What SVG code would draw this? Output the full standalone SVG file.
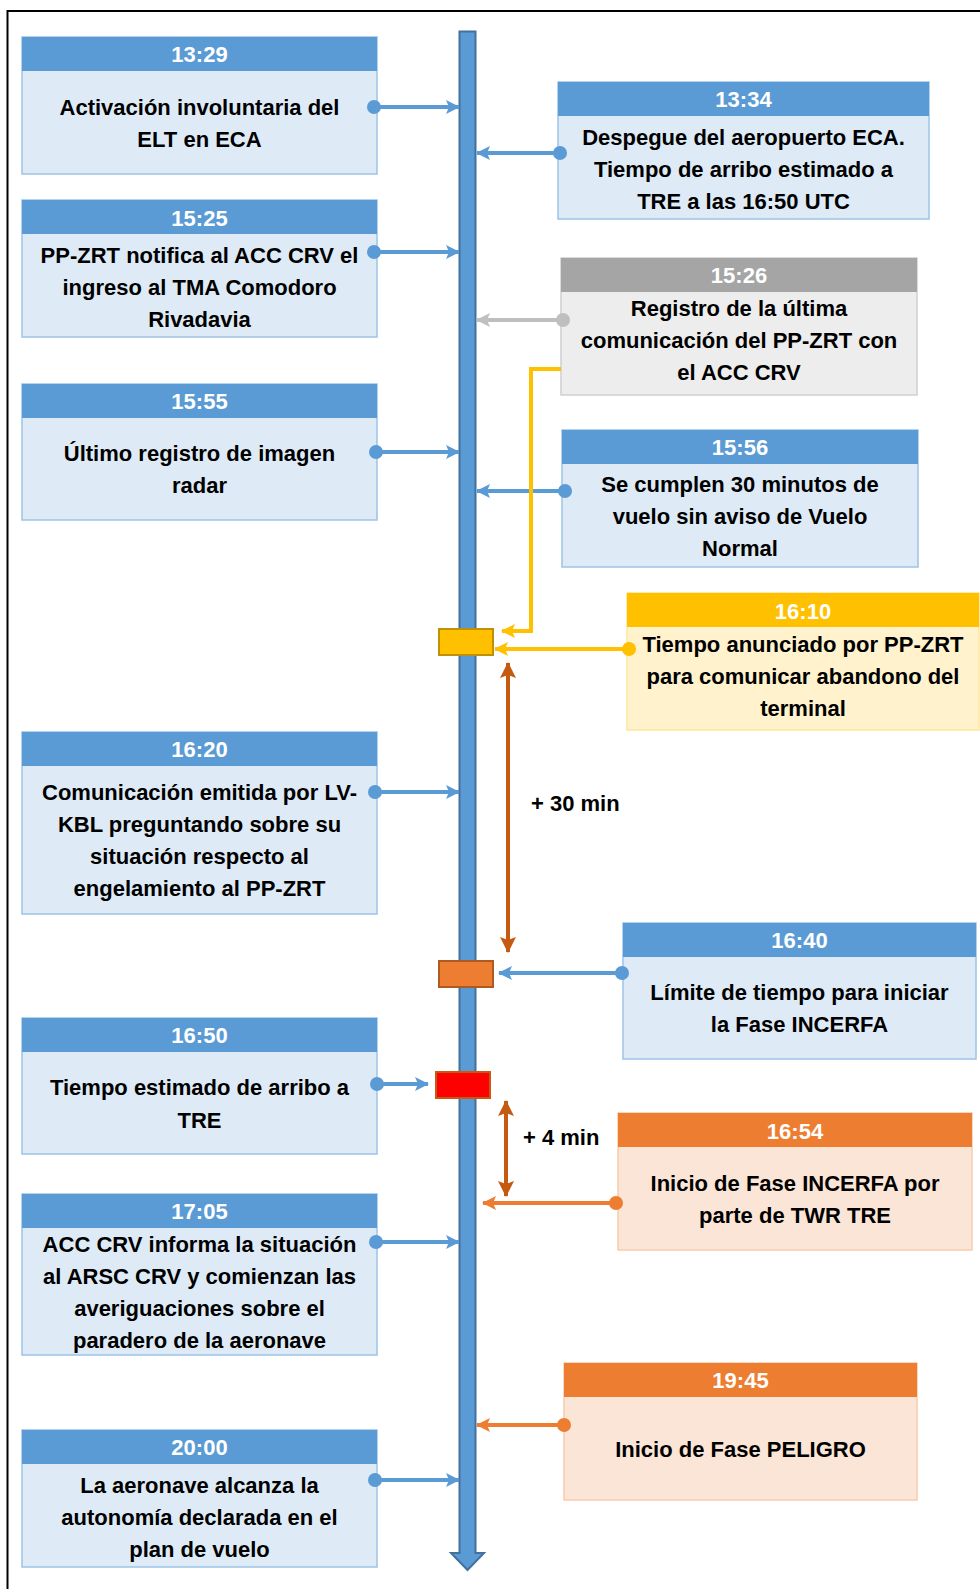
<svg xmlns="http://www.w3.org/2000/svg" width="980" height="1589" viewBox="0 0 980 1589">
<style>
text{font-family:"Liberation Sans",Arial,sans-serif;font-weight:bold;font-size:22px;text-anchor:middle}
.t{fill:#000}
.ht{fill:#fff}
.lbl{fill:#000;text-anchor:start}
.bbody{fill:#DEEBF7;stroke:#9DC3E6;stroke-width:1.5}
.bhead{fill:#5B9BD5}
.gbody{fill:#EDEDED;stroke:#D0D0D0;stroke-width:1.5}
.ghead{fill:#A5A5A5}
.ybody{fill:#FFF2CC;stroke:#FFE699;stroke-width:1.5}
.yhead{fill:#FFC000}
.obody{fill:#FBE5D6;stroke:#F8CBAD;stroke-width:1.5}
.ohead{fill:#ED7D31}
.cb{stroke:#5B9BD5;stroke-width:4;fill:none}
.cg{stroke:#BFBFBF;stroke-width:4;fill:none}
.cy{stroke:#FFC000;stroke-width:4;fill:none}
.co{stroke:#ED7D31;stroke-width:4;fill:none}
.cd{stroke:#C55A11;stroke-width:4;fill:none}
</style>
<defs>
<marker id="mb" viewBox="0 0 14 14" refX="13" refY="7" markerWidth="14" markerHeight="14" markerUnits="userSpaceOnUse" orient="auto-start-reverse"><path d="M0,0 L14,7 L0,14 L3,7 Z" fill="#5B9BD5"/></marker>
<marker id="mg" viewBox="0 0 14 14" refX="13" refY="7" markerWidth="14" markerHeight="14" markerUnits="userSpaceOnUse" orient="auto-start-reverse"><path d="M0,0 L14,7 L0,14 L3,7 Z" fill="#BFBFBF"/></marker>
<marker id="my" viewBox="0 0 14 14" refX="13" refY="7" markerWidth="14" markerHeight="14" markerUnits="userSpaceOnUse" orient="auto-start-reverse"><path d="M0,0 L14,7 L0,14 L3,7 Z" fill="#FFC000"/></marker>
<marker id="mo" viewBox="0 0 14 14" refX="13" refY="7" markerWidth="14" markerHeight="14" markerUnits="userSpaceOnUse" orient="auto-start-reverse"><path d="M0,0 L14,7 L0,14 L3,7 Z" fill="#ED7D31"/></marker>
<marker id="md" viewBox="0 0 16 16" refX="15" refY="8" markerWidth="16" markerHeight="16" markerUnits="userSpaceOnUse" orient="auto-start-reverse"><path d="M0,0 L16,8 L0,16 L3,8 Z" fill="#C55A11"/></marker>
</defs>
<rect x="0" y="0" width="980" height="1589" fill="#fff"/>
<path d="M7.5,1589 V11 H980" fill="none" stroke="#000" stroke-width="2"/>

<g id="timeline">
<path d="M459.5,31.5 H475.5 V1553 H484 L467.5,1570 L451,1553 H459.5 Z" fill="#5B9BD5" stroke="#41719C" stroke-width="2"/>
</g>

<g id="m1610"><rect x="439" y="629" width="54" height="26" fill="#FFC000" stroke="#BF9000" stroke-width="2"/></g>
<g id="m1640"><rect x="439" y="961" width="54" height="26" fill="#ED7D31" stroke="#AE5A21" stroke-width="2"/></g>
<g id="m1650"><rect x="436" y="1072" width="54" height="26" fill="#FF0000" stroke="#C55A11" stroke-width="2"/></g>

<g id="n1329">
<rect class="bbody" x="22" y="37" width="355" height="137"/><rect class="bhead" x="22" y="37" width="355" height="34"/>
<text class="ht" x="199.5" y="62">13:29</text>
<text class="t" x="199.5" y="115">Activación involuntaria del</text>
<text class="t" x="199.5" y="147">ELT en ECA</text>
</g>
<g id="n1525">
<rect class="bbody" x="22" y="200" width="355" height="137"/><rect class="bhead" x="22" y="200" width="355" height="34"/>
<text class="ht" x="199.5" y="226">15:25</text>
<text class="t" x="199.5" y="263">PP-ZRT notifica al ACC CRV el</text>
<text class="t" x="199.5" y="295">ingreso al TMA Comodoro</text>
<text class="t" x="199.5" y="327">Rivadavia</text>
</g>
<g id="n1555">
<rect class="bbody" x="22" y="384" width="355" height="136"/><rect class="bhead" x="22" y="384" width="355" height="34"/>
<text class="ht" x="199.5" y="409">15:55</text>
<text class="t" x="199.5" y="461">Último registro de imagen</text>
<text class="t" x="199.5" y="493">radar</text>
</g>
<g id="n1620">
<rect class="bbody" x="22" y="732" width="355" height="182"/><rect class="bhead" x="22" y="732" width="355" height="34"/>
<text class="ht" x="199.5" y="757">16:20</text>
<text class="t" x="199.5" y="800">Comunicación emitida por LV-</text>
<text class="t" x="199.5" y="832">KBL preguntando sobre su</text>
<text class="t" x="199.5" y="864">situación respecto al</text>
<text class="t" x="199.5" y="896">engelamiento al PP-ZRT</text>
</g>
<g id="n1650">
<rect class="bbody" x="22" y="1018" width="355" height="136"/><rect class="bhead" x="22" y="1018" width="355" height="34"/>
<text class="ht" x="199.5" y="1043">16:50</text>
<text class="t" x="199.5" y="1095">Tiempo estimado de arribo a</text>
<text class="t" x="199.5" y="1128">TRE</text>
</g>
<g id="n1705">
<rect class="bbody" x="22" y="1194" width="355" height="161"/><rect class="bhead" x="22" y="1194" width="355" height="34"/>
<text class="ht" x="199.5" y="1219">17:05</text>
<text class="t" x="199.5" y="1252">ACC CRV informa la situación</text>
<text class="t" x="199.5" y="1284">al ARSC CRV y comienzan las</text>
<text class="t" x="199.5" y="1316">averiguaciones sobre el</text>
<text class="t" x="199.5" y="1348">paradero de la aeronave</text>
</g>
<g id="n2000">
<rect class="bbody" x="22" y="1430" width="355" height="137"/><rect class="bhead" x="22" y="1430" width="355" height="34"/>
<text class="ht" x="199.5" y="1455">20:00</text>
<text class="t" x="199.5" y="1493">La aeronave alcanza la</text>
<text class="t" x="199.5" y="1525">autonomía declarada en el</text>
<text class="t" x="199.5" y="1557">plan de vuelo</text>
</g>

<g id="n1334">
<rect class="bbody" x="558" y="82" width="371" height="137"/><rect class="bhead" x="558" y="82" width="371" height="34"/>
<text class="ht" x="743.5" y="107">13:34</text>
<text class="t" x="743.5" y="145">Despegue del aeropuerto ECA.</text>
<text class="t" x="743.5" y="177">Tiempo de arribo estimado a</text>
<text class="t" x="743.5" y="209">TRE a las 16:50 UTC</text>
</g>
<g id="n1526">
<rect class="gbody" x="561" y="258" width="356" height="137"/><rect class="ghead" x="561" y="258" width="356" height="34"/>
<text class="ht" x="739" y="283">15:26</text>
<text class="t" x="739" y="316">Registro de la última</text>
<text class="t" x="739" y="348">comunicación del PP-ZRT con</text>
<text class="t" x="739" y="380">el ACC CRV</text>
</g>
<g id="n1556">
<rect class="bbody" x="562" y="430" width="356" height="137"/><rect class="bhead" x="562" y="430" width="356" height="34"/>
<text class="ht" x="740" y="455">15:56</text>
<text class="t" x="740" y="492">Se cumplen 30 minutos de</text>
<text class="t" x="740" y="524">vuelo sin aviso de Vuelo</text>
<text class="t" x="740" y="556">Normal</text>
</g>
<g id="n1610">
<rect class="ybody" x="627" y="593" width="352" height="137"/><rect class="yhead" x="627" y="593" width="352" height="34"/>
<text class="ht" x="803" y="619">16:10</text>
<text class="t" x="803" y="652">Tiempo anunciado por PP-ZRT</text>
<text class="t" x="803" y="684">para comunicar abandono del</text>
<text class="t" x="803" y="716">terminal</text>
</g>
<g id="n1640">
<rect class="bbody" x="623" y="923" width="353" height="136"/><rect class="bhead" x="623" y="923" width="353" height="34"/>
<text class="ht" x="799.5" y="948">16:40</text>
<text class="t" x="799.5" y="1000">Límite de tiempo para iniciar</text>
<text class="t" x="799.5" y="1032">la Fase INCERFA</text>
</g>
<g id="n1654">
<rect class="obody" x="618" y="1113" width="354" height="137"/><rect class="ohead" x="618" y="1113" width="354" height="34"/>
<text class="ht" x="795" y="1139">16:54</text>
<text class="t" x="795" y="1191">Inicio de Fase INCERFA por</text>
<text class="t" x="795" y="1223">parte de TWR TRE</text>
</g>
<g id="n1945">
<rect class="obody" x="564" y="1363" width="353" height="137"/><rect class="ohead" x="564" y="1363" width="353" height="34"/>
<text class="ht" x="740.5" y="1388">19:45</text>
<text class="t" x="740.5" y="1457">Inicio de Fase PELIGRO</text>
</g>

<g id="connectors">
<path class="cb" d="M374,107 H459" marker-end="url(#mb)"/>
<path class="cb" d="M374,252 H459" marker-end="url(#mb)"/>
<path class="cb" d="M376,452 H459" marker-end="url(#mb)"/>
<path class="cb" d="M375,792 H459" marker-end="url(#mb)"/>
<path class="cb" d="M377,1084 H428" marker-end="url(#mb)"/>
<path class="cb" d="M376,1242 H459" marker-end="url(#mb)"/>
<path class="cb" d="M375,1480 H459" marker-end="url(#mb)"/>
<path class="cb" d="M560,153 H477" marker-end="url(#mb)"/>
<path class="cg" d="M563,320 H477" marker-end="url(#mg)"/>
<path class="cb" d="M565,491 H477" marker-end="url(#mb)"/>
<path class="cy" d="M561,369 H531 V631 H502" marker-end="url(#my)"/>
<path class="cy" d="M629,649 H495" marker-end="url(#my)"/>
<path class="cb" d="M622,973 H499" marker-end="url(#mb)"/>
<path class="co" d="M616,1203 H483" marker-end="url(#mo)"/>
<path class="co" d="M564,1425 H477" marker-end="url(#mo)"/>
<path class="cd" d="M508,663 V952" marker-start="url(#md)" marker-end="url(#md)"/>
<path class="cd" d="M506,1101 V1196" marker-start="url(#md)" marker-end="url(#md)"/>
<g fill="#5B9BD5">
<circle cx="374" cy="107" r="7"/><circle cx="374" cy="252" r="7"/><circle cx="376" cy="452" r="7"/><circle cx="375" cy="792" r="7"/><circle cx="377" cy="1084" r="7"/><circle cx="376" cy="1242" r="7"/><circle cx="375" cy="1480" r="7"/>
<circle cx="560" cy="153" r="7"/><circle cx="565" cy="491" r="7"/><circle cx="622" cy="973" r="7"/>
</g>
<circle cx="563" cy="320" r="7" fill="#BFBFBF"/>
<circle cx="629" cy="649" r="7" fill="#FFC000"/>
<circle cx="616" cy="1203" r="7" fill="#ED7D31"/>
<circle cx="564" cy="1425" r="7" fill="#ED7D31"/>
<text class="lbl" x="531" y="811">+ 30 min</text>
<text class="lbl" x="523" y="1145">+ 4 min</text>
</g>
</svg>
